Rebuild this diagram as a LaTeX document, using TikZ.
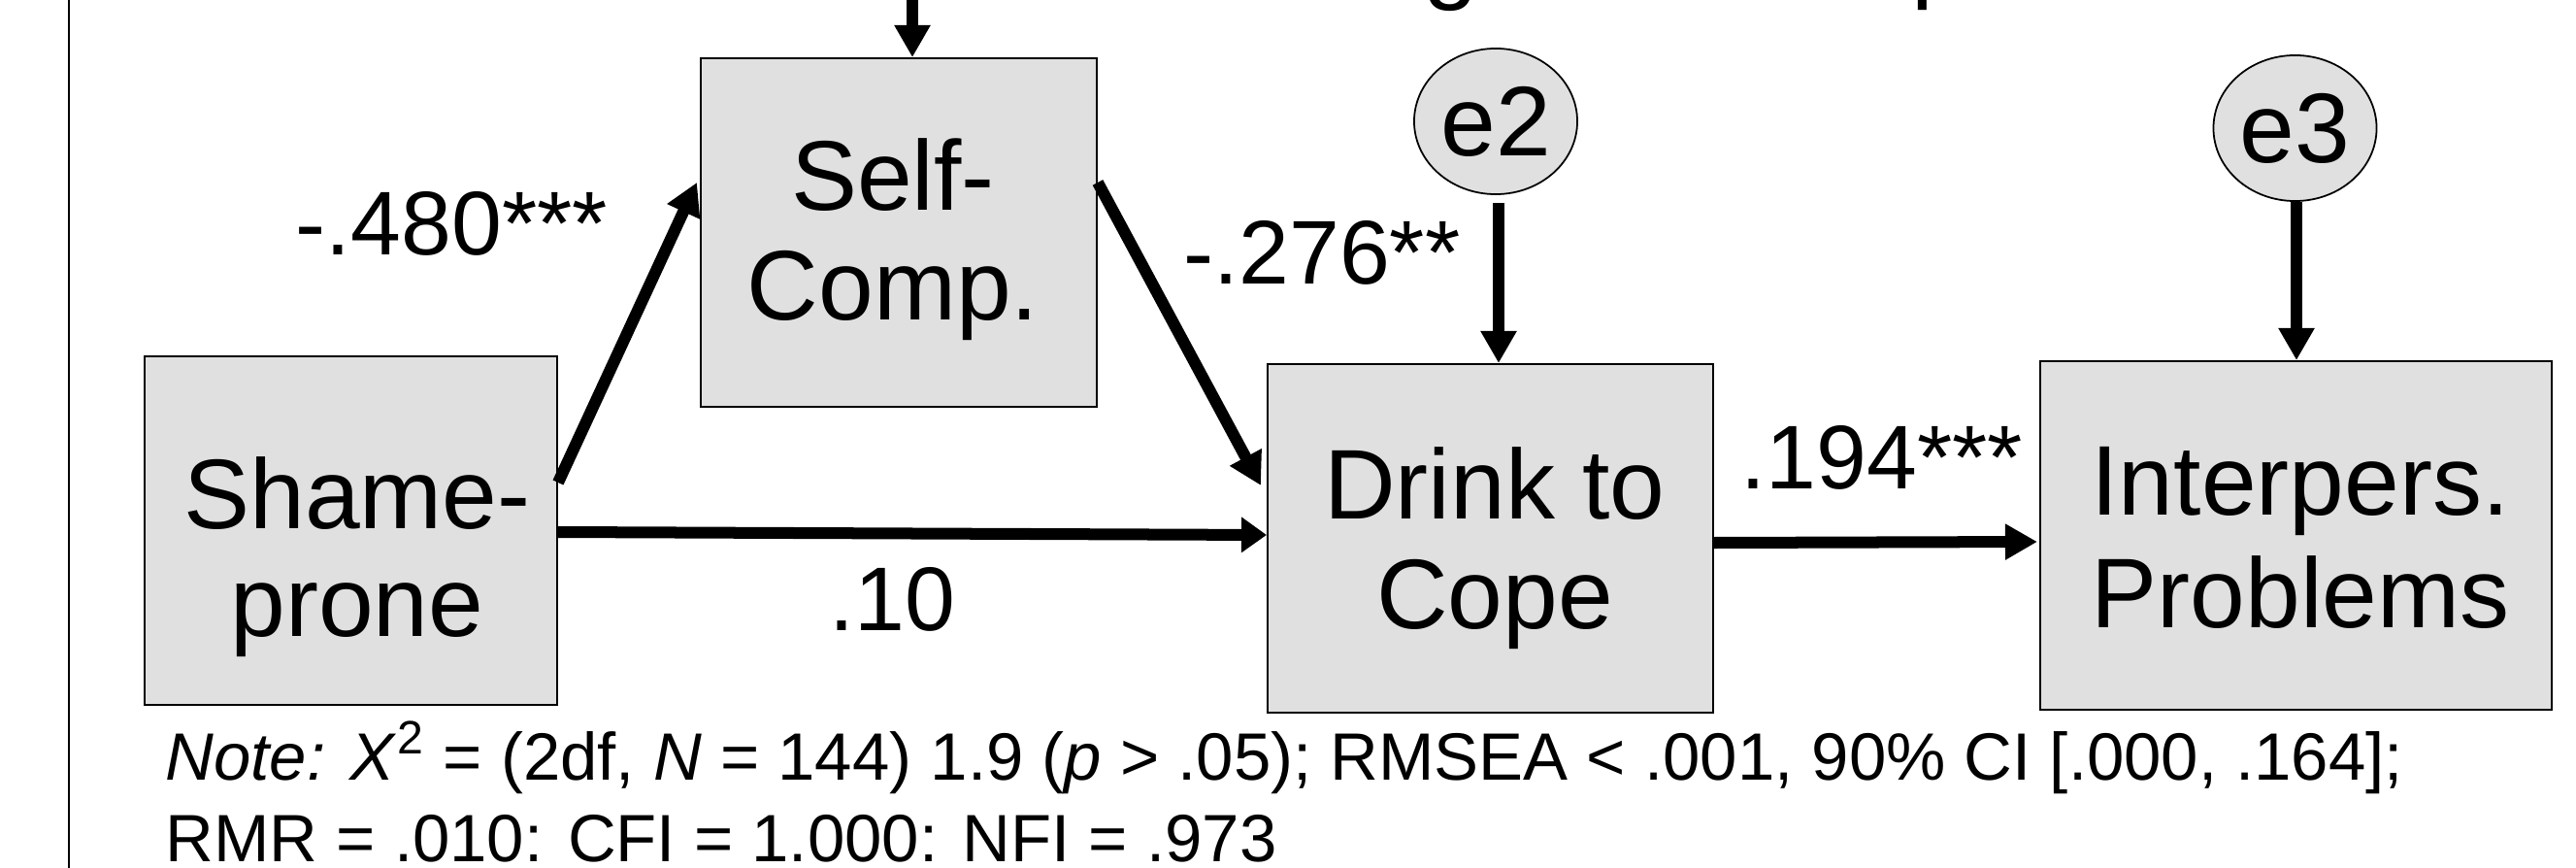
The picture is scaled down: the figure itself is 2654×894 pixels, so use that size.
\documentclass[tikz,border=0pt]{standalone}
\usepackage{fontspec}
\setmainfont{Liberation Sans}
\usetikzlibrary{arrows.meta,shapes.geometric}
\definecolor{boxgray}{RGB}{224,224,224}
\begin{document}
\begin{tikzpicture}[x=0.01cm,y=-0.01cm,
  box/.style={draw=black, line width=0.5pt, fill=boxgray, inner sep=0pt, minimum height=3.59cm},
  errnode/.style={ellipse, draw=black, line width=0.5pt, fill=boxgray, inner sep=0pt,
    minimum width=1.68cm, minimum height=1.50cm, font=\fontsize{29}{33}\selectfont},
  boxtxt/.style={anchor=base, inner sep=0pt, font=\fontsize{29}{33}\selectfont},
  coef/.style={anchor=base, inner sep=0pt, font=\fontsize{26.5}{30}\selectfont},
  notetxt/.style={anchor=base west, inner sep=0pt, font=\fontsize{19.6}{23}\selectfont},
  arr/.style={line width=0.12cm, -{Triangle[width=0.35cm,length=0.33cm]}},
  arrshort/.style={line width=0.12cm, -{Triangle[width=0.35cm,length=0.26cm]}}
]
\useasboundingbox (0,0) rectangle (2654,894);
\clip (0,0) rectangle (2654,894);
\fill[white] (0,0) rectangle (2654,894);

% left rule
\draw[line width=0.02cm] (71,0) -- (71,894);

% clipped fragments of a title above the picture
\node[boxtxt, anchor=base west] (ttlg) at (1466,-9) {g};
\node[boxtxt, anchor=base west] (ttlp) at (1969,-10) {p};

% boxes
\node[box, minimum width=4.25cm] (shame) at (361.5,546.5) {};
\node[box, minimum width=4.08cm] (selfc) at (926,239.5) {};
\node[box, minimum width=4.59cm] (drink) at (1535.5,554.5) {};
\node[box, minimum width=5.27cm] (interp) at (2365.5,551.5) {};

\node[boxtxt] (shame1) at (368,544) {Shame-};
\node[boxtxt] (shame2) at (368,655) {prone};
\node[boxtxt] (selfc1) at (920,217) {Self-};
\node[boxtxt] (selfc2) at (920,330) {Comp.};
\node[boxtxt] (drink1) at (1540,534) {Drink to};
\node[boxtxt] (drink2) at (1540,647) {Cope};
\node[boxtxt] (interp1) at (2370,530) {Interpers.};
\node[boxtxt] (interp2) at (2370,646) {Problems};

% error terms
\node[errnode] (e2) at (1541,125) {e2};
\node[errnode] (e3) at (2364.5,132) {e3};

% arrows
\coordinate (topin) at (940,-5);
\draw[arr] (topin) -- (topin |- selfc.north);
\draw[arr, shorten <=0.08cm] (e2.south -| 1544,0) -- (1544,0 |- drink.north);
\draw[arr] (e3.south -| 2366,0) -- (2366,0 |- interp.north);
\draw[arr] ([yshift=0.495cm]shame.east) -- ([xshift=-0.03cm,yshift=0.515cm]selfc.west);
\draw[arr] ([yshift=0.515cm]selfc.east) -- ([xshift=-0.06cm,yshift=0.545cm]drink.west);
\draw[arrshort] ([yshift=-0.015cm]shame.east) -- ([yshift=0.035cm]drink.west);
\draw[arr] ([yshift=-0.045cm]drink.east) -- ([xshift=-0.02cm,yshift=-0.065cm]interp.west);

% coefficients
\node[coef] (c1) at (465.5,262) {-.480***};
\node[coef] (c2) at (1362,293) {-.276**};
\node[coef] (c3) at (1939,503) {.194***};
\node[coef] (c4) at (919.5,649) {.10};

% note
\node[notetxt] (note1) at (170,803) {\textit{Note:} \textit{X}\textsuperscript{2} = (2df, \textit{N} = 144) 1.9 (\textit{p} > .05); RMSEA < .001, 90\% CI [.000, .164];};
\node[notetxt] (note2) at (170,887) {RMR = .010: CFI = 1.000: NFI = .973};
\end{tikzpicture}
\end{document}
